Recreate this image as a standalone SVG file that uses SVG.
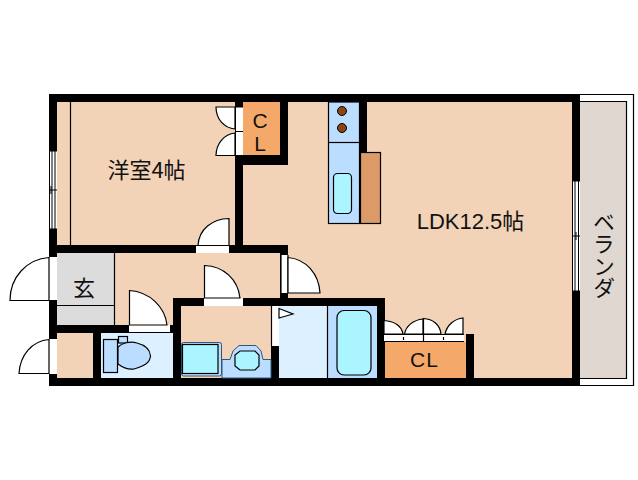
<svg xmlns="http://www.w3.org/2000/svg" width="638" height="480" viewBox="0 0 638 480">
<style>
.wall{fill:#000}
.open{fill:#fff;stroke:none}
.door{fill:#fff;stroke:#000;stroke-width:1.2}
.ln{fill:none;stroke:#000;stroke-width:1.2}
.fx{stroke:#000;stroke-width:1.2}
.win{fill:none;stroke:#000;stroke-width:1}
text{font-family:"Noto Sans CJK JP","Liberation Sans",sans-serif;fill:#111;font-size:22px;text-anchor:middle}
.lat{font-family:"Liberation Sans","Noto Sans CJK JP",sans-serif}
.cl{font-size:21px}
.tate{writing-mode:vertical-rl;text-orientation:upright}
</style>
<rect width="638" height="480" fill="#fff"/>
<g id="floors">
<rect x="57" y="102" width="515" height="276" fill="#f2d3b8"/>
<rect x="57" y="253" width="57" height="72" fill="#dcdcdc"/>
<rect x="243" y="102" width="37" height="53" fill="#f4a96b"/>
<rect x="385" y="342" width="81" height="36" fill="#f4a96b"/>
<rect x="101" y="333" width="72" height="45" fill="#ddf0ff"/>
<rect x="279" y="306" width="48" height="72" fill="#ddf0ff"/>
<rect x="327" y="306" width="50" height="72" fill="#bbddff"/>
<rect x="580" y="102" width="47" height="276" fill="#e0d8d0"/>
</g>
<g id="balcony-lines">
<path class="ln" d="M580 101.500H626.500V378.500H580"/>
<path class="ln" d="M580 94.500H633.500V385.500H580"/>
<path class="ln" d="M70.500 102V245"/>
<path class="ln" d="M114.500 253V325M57 305.500H114.500"/>
<path class="ln" d="M327.500 306V378"/>
</g>
<g id="walls">
<rect class="wall" x="49" y="94" width="531" height="8"/>
<rect class="wall" x="49" y="378" width="531" height="8"/>
<rect class="wall" x="49" y="94" width="8" height="292"/>
<rect class="wall" x="572" y="94" width="8" height="292"/>
<rect class="wall" x="235" y="94" width="8" height="159"/>
<rect class="wall" x="280" y="94" width="8" height="71"/>
<rect class="wall" x="235" y="155" width="53" height="10"/>
<rect class="wall" x="49" y="245" width="239" height="8"/>
<rect class="wall" x="280" y="245" width="8" height="61"/>
<rect class="wall" x="49" y="325" width="124" height="8"/>
<rect class="wall" x="93" y="325" width="8" height="61"/>
<rect class="wall" x="173" y="298" width="8" height="88"/>
<rect class="wall" x="173" y="298" width="212" height="8"/>
<rect class="wall" x="377" y="298" width="8" height="88"/>
<rect class="wall" x="271" y="346" width="8" height="40"/>
<rect class="wall" x="466" y="334" width="8" height="52"/>
<rect class="wall" x="360" y="94" width="7" height="58"/>
</g>
<g id="windows">
<rect class="open" x="49" y="151" width="8" height="78"/>
<path class="win" d="M49.500 151V229M52 151V229M55 151V229M49 190H57M51 186V194M49 151H57M49 229H57"/>
<rect class="open" x="572" y="181" width="8" height="110"/>
<path class="win" d="M572.500 181V291M575 181V291M578.500 181V291M572 236H580M576 232V240M572 181H580M572 291H580"/>
</g>
<g id="doors">
<rect class="open" x="236" y="107" width="7" height="49"/>
<path class="ln" d="M236 107H243M236 131.500H243M236 155.500H243"/>
<path class="door" d="M216 107H235V129C224 128 216 119 216 107Z"/>
<path class="door" d="M216 155.500H235V133C224 134 216 144 216 155.500Z"/>
<rect class="open" x="196" y="246" width="33" height="7"/>
<path class="door" d="M229 218.500V245.500H198C199 229 212 219 229 218.500Z"/>
<rect class="open" x="49" y="257" width="8" height="43"/>
<path class="door" d="M49 257.500V300.500H10C10 277 27 259 49 257.500Z"/>
<rect class="open" x="49" y="339" width="8" height="35"/>
<path class="door" d="M49 339.500V373.500H19C20 355 32 341 49 339.500Z"/>
<rect class="open" x="129" y="325" width="41" height="7"/>
<path class="door" d="M129.500 290.500V325H167C165 307 150 292 129.500 290.500Z"/>
<rect class="open" x="204" y="298" width="39" height="8"/>
<path class="door" d="M204.500 265.500V298H240C238 280 224 266 204.500 265.500Z"/>
<rect class="open" x="281" y="255" width="7" height="38"/>
<path class="ln" d="M281 255V293M288 255V293"/>
<path class="door" d="M288 257.500V293H320C319 274 306 259 288 257.500Z"/>
<rect class="open" x="272" y="306" width="7" height="40"/>
<path class="ln" d="M271.500 306V346"/>
<path class="door" d="M279 308.500L293 314L279 318Z"/>
<rect class="open" x="384" y="334" width="80" height="8"/>
<path class="ln" d="M384 334.500H464M384 341.500H464M403.500 337V340M423.500 334V342M443.500 337V340"/>
<path class="door" d="M384 320.500V334H403C402 326 394 321 384 320.500Z"/>
<path class="door" d="M423 319V334H404.500C406 326 413 320 423 319Z"/>
<path class="door" d="M423.500 318.500V334H441C440 325 433 319 423.500 318.500Z"/>
<path class="door" d="M463 318V334H445C447 325 454 319 463 318Z"/>
</g>
<g id="kitchen">
<rect class="fx" x="328.500" y="102" width="31" height="121.500" fill="#bbddff"/>
<path class="ln" d="M328.500 142.500H359.500"/>
<circle cx="342" cy="111" r="4.500" fill="#8b4513" stroke="#000"/>
<circle cx="342" cy="128" r="4.500" fill="#8b4513" stroke="#000"/>
<rect class="fx" x="333.500" y="173.500" width="18" height="40" rx="4" fill="#aaf5ff"/>
<rect class="fx" x="360.500" y="152.500" width="20" height="71" fill="#dc9a68"/>
</g>
<g id="toilet">
<rect class="fx" x="103.500" y="339.500" width="14" height="33" fill="#bbddff"/>
<rect class="fx" x="118.500" y="336.500" width="9" height="6.500" fill="#bbddff"/>
<path class="fx" d="M118 347C122 343 130 341 137 343C145 345 150 350 150.500 356C150 363 144 366 134 369C127 370 122 367 118 364Z" fill="#bbddff"/>
</g>
<g id="washroom">
<rect x="181.500" y="342.500" width="40" height="33.500" rx="2" fill="#bbddff" stroke="#335577"/>
<rect class="fx" x="182.500" y="344.500" width="35.500" height="29" fill="#aaf5ff"/>
<path d="M222 378V359.500H230L233 351L239 345.500H256L261 351L263 359.500H271V378Z" fill="#bbddff" stroke="#335577"/>
<path class="fx" d="M240 351H255L259 355V366L255 370H240L235 366V355Z" fill="#aaf5ff"/>
</g>
<g id="bath">
<rect class="fx" x="337" y="310.500" width="34" height="64.500" rx="7" fill="#aaf5ff"/>
</g>
<g id="labels">
<text x="146.500" y="178" xml:lang="ja">洋室4帖</text>
<text x="470.500" y="229" class="lat">LDK12.5帖</text>
<text x="84" y="296" xml:lang="ja">玄</text>
<text x="260" y="128" class="lat cl">C</text>
<text x="260" y="151" class="lat cl">L</text>
<text x="424.500" y="367" class="lat cl" letter-spacing="1">CL</text>
<text x="604" y="255" class="tate" xml:lang="ja">ベランダ</text>
</g>
</svg>
